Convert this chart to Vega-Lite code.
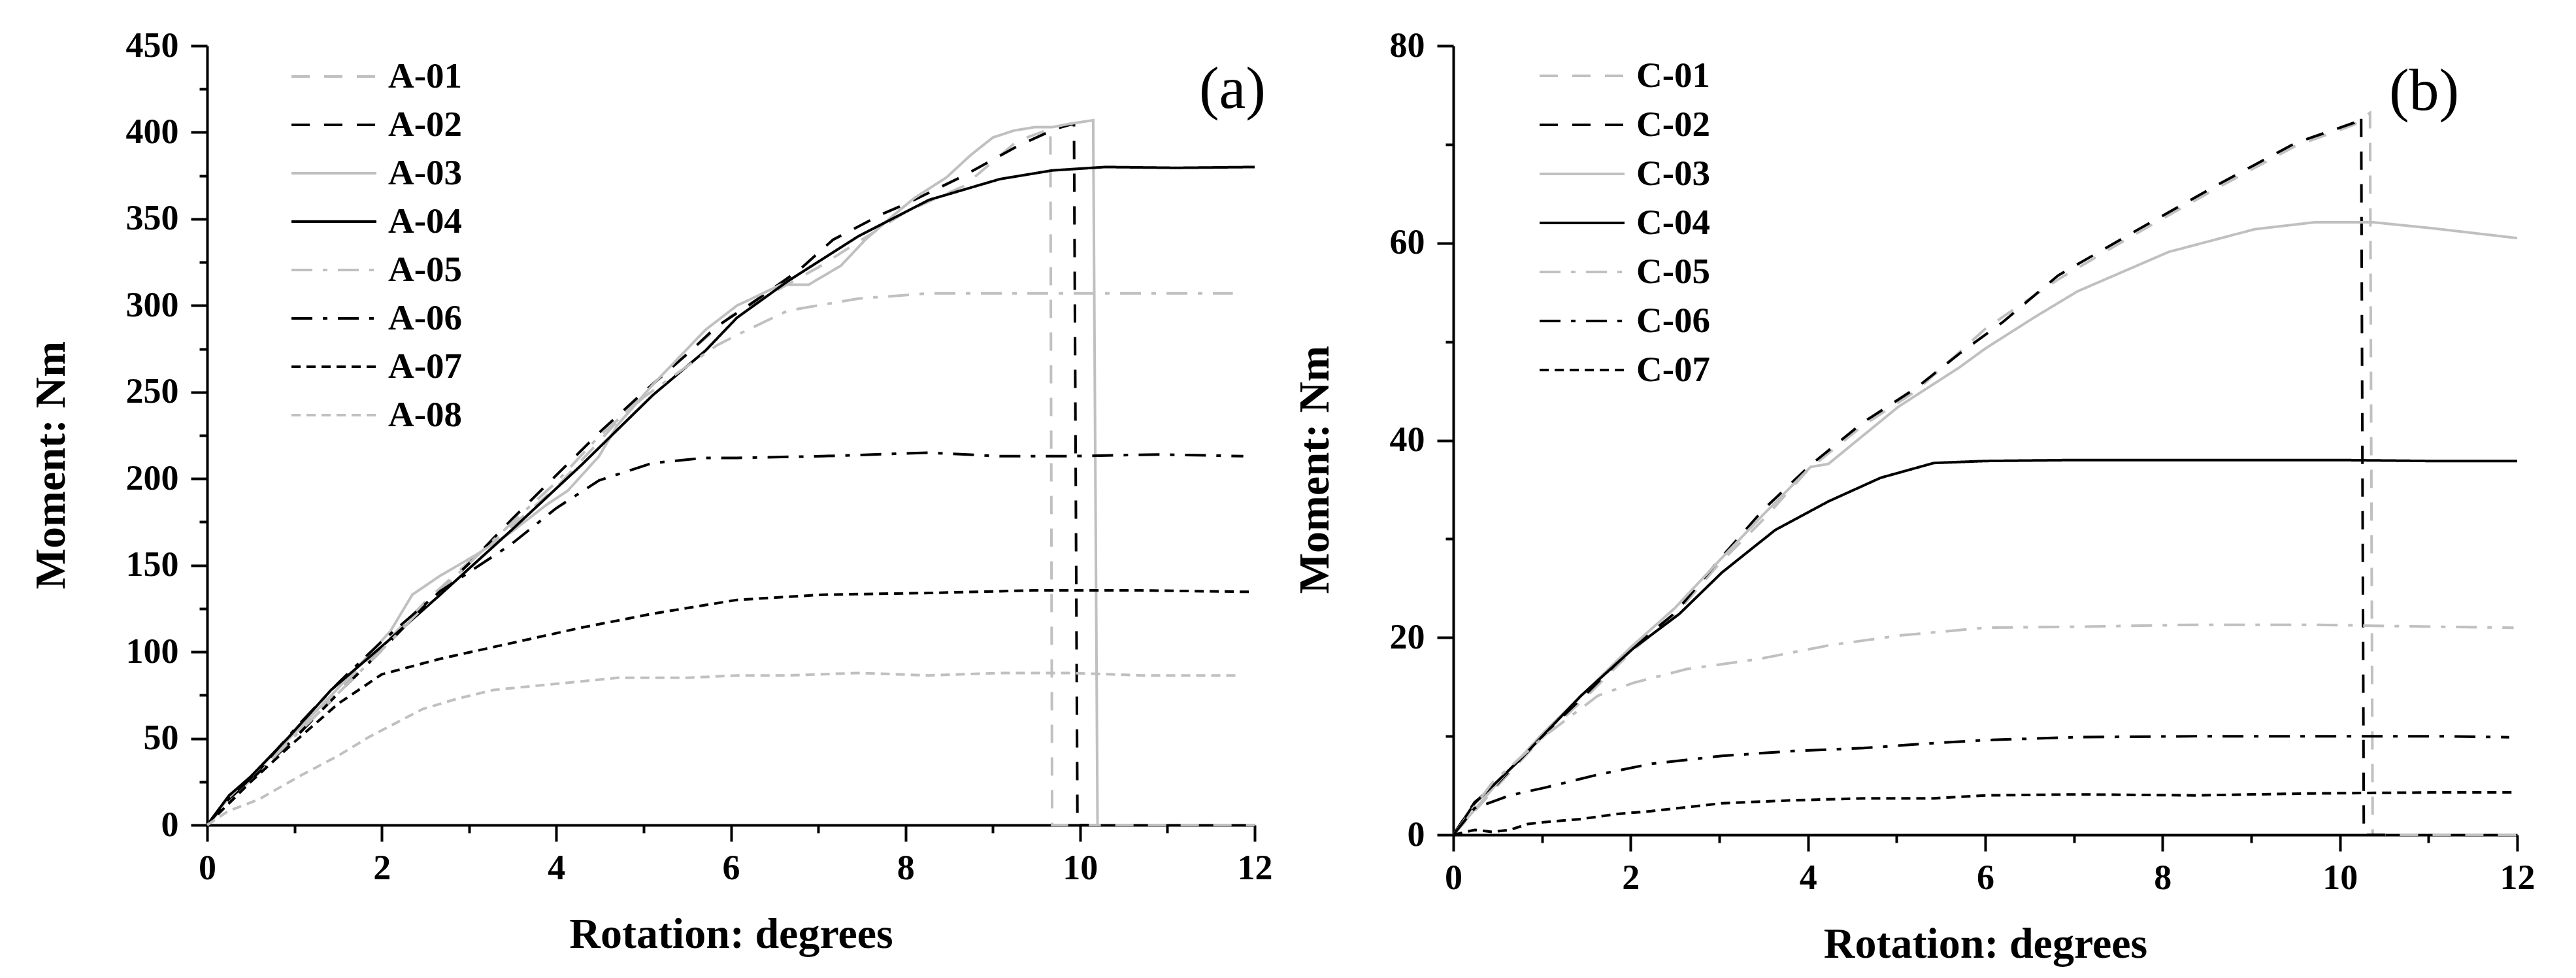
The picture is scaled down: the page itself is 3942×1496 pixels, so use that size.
{
"$schema": "https://vega.github.io/schema/vega-lite/v6.json",
"background": "white",
"padding": {"left": 45, "top": 43, "right": 5, "bottom": 5},
"config": {
  "view": {"stroke": null},
  "font": "Liberation Serif",
  "axis": {"domainColor": "black", "domainWidth": 4, "tickColor": "black", "tickWidth": 4, "grid": false,
    "labelFont": "Liberation Serif", "labelFontSize": 54, "labelFontWeight": "bold", "labelColor": "black",
    "titleFont": "Liberation Serif", "titleFontSize": 66, "titleFontWeight": "bold", "titleColor": "black",
    "labelOverlap": false, "labelFlush": false, "labelBound": false, "format": "d"},
  "legend": {"labelFont": "Liberation Serif", "labelFontSize": 55, "labelFontWeight": "bold", "labelColor": "black",
    "symbolType": "stroke", "symbolSize": 16900, "symbolStrokeWidth": 4, "labelOffset": 16, "rowPadding": 19, "clipHeight": 52, "padding": 0}
},
"datasets": {
"a": [
{"s":"A-01","x":0,"y":0},{"s":"A-01","x":0.25,"y":15},{"s":"A-01","x":0.5,"y":27},{"s":"A-01","x":1,"y":52},{"s":"A-01","x":1.5,"y":78},{"s":"A-01","x":2,"y":103},{"s":"A-01","x":2.5,"y":129},{"s":"A-01","x":3,"y":152},{"s":"A-01","x":3.5,"y":173},{"s":"A-01","x":4,"y":195},{"s":"A-01","x":4.5,"y":222},{"s":"A-01","x":5,"y":250},{"s":"A-01","x":5.5,"y":272},{"s":"A-01","x":6,"y":294},{"s":"A-01","x":6.5,"y":308},{"s":"A-01","x":7,"y":322},{"s":"A-01","x":7.5,"y":338},{"s":"A-01","x":8,"y":354},{"s":"A-01","x":8.67,"y":369},{"s":"A-01","x":9.28,"y":395},{"s":"A-01","x":9.66,"y":402},{"s":"A-01","x":9.68,"y":0},{"s":"A-01","x":12,"y":0},
{"s":"A-02","x":0,"y":0},{"s":"A-02","x":0.25,"y":15},{"s":"A-02","x":0.5,"y":26},{"s":"A-02","x":1,"y":50},{"s":"A-02","x":1.5,"y":76},{"s":"A-02","x":2,"y":101},{"s":"A-02","x":2.5,"y":127},{"s":"A-02","x":3,"y":151},{"s":"A-02","x":3.5,"y":177},{"s":"A-02","x":4,"y":202},{"s":"A-02","x":4.5,"y":227},{"s":"A-02","x":5,"y":250},{"s":"A-02","x":5.5,"y":272},{"s":"A-02","x":5.84,"y":288},{"s":"A-02","x":6.2,"y":300},{"s":"A-02","x":6.77,"y":320},{"s":"A-02","x":7.17,"y":338},{"s":"A-02","x":7.74,"y":353},{"s":"A-02","x":8.02,"y":359},{"s":"A-02","x":8.67,"y":375},{"s":"A-02","x":9.28,"y":392},{"s":"A-02","x":9.72,"y":402},{"s":"A-02","x":9.93,"y":405},{"s":"A-02","x":9.97,"y":0},{"s":"A-02","x":10.1,"y":0},
{"s":"A-03","x":0,"y":0},{"s":"A-03","x":0.25,"y":16},{"s":"A-03","x":0.5,"y":28},{"s":"A-03","x":1,"y":53},{"s":"A-03","x":1.5,"y":79},{"s":"A-03","x":2.1,"y":112},{"s":"A-03","x":2.35,"y":133},{"s":"A-03","x":2.67,"y":144},{"s":"A-03","x":3.08,"y":156},{"s":"A-03","x":3.48,"y":169},{"s":"A-03","x":3.89,"y":185},{"s":"A-03","x":4.13,"y":193},{"s":"A-03","x":4.49,"y":213},{"s":"A-03","x":4.7,"y":231},{"s":"A-03","x":5.1,"y":254},{"s":"A-03","x":5.71,"y":286},{"s":"A-03","x":6.07,"y":300},{"s":"A-03","x":6.24,"y":304},{"s":"A-03","x":6.57,"y":312},{"s":"A-03","x":6.89,"y":312},{"s":"A-03","x":7.26,"y":323},{"s":"A-03","x":7.54,"y":338},{"s":"A-03","x":7.86,"y":352},{"s":"A-03","x":8.1,"y":362},{"s":"A-03","x":8.47,"y":374},{"s":"A-03","x":8.75,"y":387},{"s":"A-03","x":9.0,"y":397},{"s":"A-03","x":9.24,"y":401},{"s":"A-03","x":9.48,"y":403},{"s":"A-03","x":9.68,"y":403},{"s":"A-03","x":9.89,"y":405},{"s":"A-03","x":10.15,"y":407},{"s":"A-03","x":10.2,"y":0},
{"s":"A-04","x":0,"y":0},{"s":"A-04","x":0.25,"y":17},{"s":"A-04","x":0.5,"y":28},{"s":"A-04","x":0.92,"y":50},{"s":"A-04","x":1.42,"y":78},{"s":"A-04","x":2.02,"y":104},{"s":"A-04","x":2.67,"y":133},{"s":"A-04","x":3.48,"y":170},{"s":"A-04","x":4.29,"y":208},{"s":"A-04","x":5.1,"y":248},{"s":"A-04","x":5.71,"y":274},{"s":"A-04","x":6.07,"y":293},{"s":"A-04","x":6.65,"y":314},{"s":"A-04","x":7.46,"y":340},{"s":"A-04","x":8.27,"y":361},{"s":"A-04","x":9.08,"y":373},{"s":"A-04","x":9.68,"y":378},{"s":"A-04","x":10.29,"y":380},{"s":"A-04","x":11.1,"y":379.5},{"s":"A-04","x":12,"y":380},
{"s":"A-05","x":0,"y":0},{"s":"A-05","x":0.25,"y":14},{"s":"A-05","x":0.5,"y":26},{"s":"A-05","x":1,"y":51},{"s":"A-05","x":1.5,"y":76},{"s":"A-05","x":2,"y":101},{"s":"A-05","x":2.5,"y":127},{"s":"A-05","x":3,"y":151},{"s":"A-05","x":3.5,"y":175},{"s":"A-05","x":4,"y":198},{"s":"A-05","x":4.5,"y":225},{"s":"A-05","x":5,"y":247},{"s":"A-05","x":5.5,"y":265},{"s":"A-05","x":5.84,"y":277},{"s":"A-05","x":6.07,"y":283},{"s":"A-05","x":6.65,"y":297},{"s":"A-05","x":7.46,"y":304},{"s":"A-05","x":8.27,"y":307},{"s":"A-05","x":9.08,"y":307},{"s":"A-05","x":9.89,"y":307},{"s":"A-05","x":10.7,"y":307},{"s":"A-05","x":11.75,"y":307},
{"s":"A-06","x":0,"y":0},{"s":"A-06","x":0.25,"y":15},{"s":"A-06","x":0.6,"y":32},{"s":"A-06","x":1.05,"y":58},{"s":"A-06","x":1.5,"y":82},{"s":"A-06","x":2.0,"y":106},{"s":"A-06","x":2.67,"y":135},{"s":"A-06","x":3.48,"y":162},{"s":"A-06","x":4.0,"y":183},{"s":"A-06","x":4.49,"y":199},{"s":"A-06","x":5.1,"y":209},{"s":"A-06","x":5.7,"y":212},{"s":"A-06","x":6.07,"y":212},{"s":"A-06","x":7.05,"y":213},{"s":"A-06","x":8.27,"y":215},{"s":"A-06","x":9.08,"y":213},{"s":"A-06","x":9.89,"y":213},{"s":"A-06","x":10.9,"y":214},{"s":"A-06","x":11.87,"y":213},
{"s":"A-07","x":0,"y":0},{"s":"A-07","x":0.5,"y":25},{"s":"A-07","x":1,"y":48},{"s":"A-07","x":1.5,"y":70},{"s":"A-07","x":2,"y":87},{"s":"A-07","x":2.67,"y":96},{"s":"A-07","x":3.48,"y":105},{"s":"A-07","x":4.29,"y":114},{"s":"A-07","x":5.1,"y":122},{"s":"A-07","x":6.07,"y":130},{"s":"A-07","x":7.05,"y":133},{"s":"A-07","x":8.27,"y":134},{"s":"A-07","x":9.48,"y":135.5},{"s":"A-07","x":10.7,"y":135.5},{"s":"A-07","x":12,"y":134.6},
{"s":"A-08","x":0,"y":0},{"s":"A-08","x":0.24,"y":8},{"s":"A-08","x":0.6,"y":15},{"s":"A-08","x":1.05,"y":28},{"s":"A-08","x":1.5,"y":40},{"s":"A-08","x":1.86,"y":51},{"s":"A-08","x":2.47,"y":67},{"s":"A-08","x":2.87,"y":73},{"s":"A-08","x":3.28,"y":78},{"s":"A-08","x":3.89,"y":81},{"s":"A-08","x":4.7,"y":85},{"s":"A-08","x":5.5,"y":85},{"s":"A-08","x":6.07,"y":86.4},{"s":"A-08","x":6.65,"y":86.4},{"s":"A-08","x":7.46,"y":87.8},{"s":"A-08","x":8.27,"y":86.4},{"s":"A-08","x":9.08,"y":87.8},{"s":"A-08","x":9.89,"y":87.8},{"s":"A-08","x":10.7,"y":86.4},{"s":"A-08","x":11.83,"y":86.4}
],
"b": [
{"s":"C-01","x":0,"y":0},{"s":"C-01","x":0.5,"y":5},{"s":"C-01","x":1,"y":9.8},{"s":"C-01","x":1.5,"y":14},{"s":"C-01","x":2,"y":18.5},{"s":"C-01","x":2.5,"y":22.3},{"s":"C-01","x":3,"y":27.5},{"s":"C-01","x":3.5,"y":32},{"s":"C-01","x":4,"y":37},{"s":"C-01","x":4.62,"y":41.5},{"s":"C-01","x":5.22,"y":45},{"s":"C-01","x":6,"y":51.3},{"s":"C-01","x":6.82,"y":56.3},{"s":"C-01","x":7.71,"y":61},{"s":"C-01","x":8.6,"y":65.5},{"s":"C-01","x":9.49,"y":69.8},{"s":"C-01","x":10.16,"y":72},{"s":"C-01","x":10.34,"y":73.2},{"s":"C-01","x":10.37,"y":0},{"s":"C-01","x":12,"y":0},
{"s":"C-02","x":0,"y":0},{"s":"C-02","x":0.24,"y":3.3},{"s":"C-02","x":0.5,"y":5.2},{"s":"C-02","x":1,"y":10},{"s":"C-02","x":1.5,"y":14.3},{"s":"C-02","x":2,"y":18.8},{"s":"C-02","x":2.5,"y":22.5},{"s":"C-02","x":3.03,"y":28.2},{"s":"C-02","x":3.5,"y":33},{"s":"C-02","x":4.03,"y":37.5},{"s":"C-02","x":4.62,"y":41.8},{"s":"C-02","x":5.22,"y":45.3},{"s":"C-02","x":5.71,"y":48.8},{"s":"C-02","x":6.2,"y":52},{"s":"C-02","x":6.82,"y":56.7},{"s":"C-02","x":7.71,"y":61.3},{"s":"C-02","x":8.6,"y":65.8},{"s":"C-02","x":9.49,"y":70.1},{"s":"C-02","x":10.16,"y":72.2},{"s":"C-02","x":10.24,"y":73},{"s":"C-02","x":10.27,"y":0},{"s":"C-02","x":10.6,"y":0},
{"s":"C-03","x":0,"y":0},{"s":"C-03","x":0.5,"y":5.3},{"s":"C-03","x":1,"y":10.2},{"s":"C-03","x":1.5,"y":14.6},{"s":"C-03","x":2,"y":19},{"s":"C-03","x":2.5,"y":23},{"s":"C-03","x":3,"y":27.8},{"s":"C-03","x":3.5,"y":32.5},{"s":"C-03","x":4.03,"y":37.3},{"s":"C-03","x":4.23,"y":37.6},{"s":"C-03","x":5.02,"y":43.4},{"s":"C-03","x":5.71,"y":47.4},{"s":"C-03","x":6,"y":49.3},{"s":"C-03","x":6.56,"y":52.5},{"s":"C-03","x":7.04,"y":55.1},{"s":"C-03","x":8.07,"y":59.1},{"s":"C-03","x":9.04,"y":61.4},{"s":"C-03","x":9.71,"y":62.1},{"s":"C-03","x":10.38,"y":62.1},{"s":"C-03","x":11.04,"y":61.5},{"s":"C-03","x":12,"y":60.5},
{"s":"C-04","x":0,"y":0},{"s":"C-04","x":0.24,"y":3.2},{"s":"C-04","x":0.76,"y":7.7},{"s":"C-04","x":1.44,"y":14.1},{"s":"C-04","x":2.03,"y":18.9},{"s":"C-04","x":2.55,"y":22.4},{"s":"C-04","x":3.03,"y":26.6},{"s":"C-04","x":3.63,"y":30.9},{"s":"C-04","x":4.23,"y":33.8},{"s":"C-04","x":4.82,"y":36.2},{"s":"C-04","x":5.42,"y":37.7},{"s":"C-04","x":6,"y":37.9},{"s":"C-04","x":7,"y":38},{"s":"C-04","x":8,"y":38},{"s":"C-04","x":9,"y":38},{"s":"C-04","x":10,"y":38},{"s":"C-04","x":11,"y":37.9},{"s":"C-04","x":12,"y":37.9},
{"s":"C-05","x":0,"y":0},{"s":"C-05","x":0.44,"y":5.3},{"s":"C-05","x":1.04,"y":10.1},{"s":"C-05","x":1.63,"y":14.1},{"s":"C-05","x":2.03,"y":15.4},{"s":"C-05","x":2.63,"y":16.8},{"s":"C-05","x":3.43,"y":17.8},{"s":"C-05","x":4.23,"y":19.2},{"s":"C-05","x":5.02,"y":20.2},{"s":"C-05","x":6,"y":21},{"s":"C-05","x":7.04,"y":21.1},{"s":"C-05","x":8.38,"y":21.3},{"s":"C-05","x":9.71,"y":21.3},{"s":"C-05","x":11.04,"y":21.1},{"s":"C-05","x":11.96,"y":21},
{"s":"C-06","x":0,"y":0},{"s":"C-06","x":0.24,"y":2.7},{"s":"C-06","x":0.64,"y":4},{"s":"C-06","x":1.04,"y":4.8},{"s":"C-06","x":1.63,"y":6.1},{"s":"C-06","x":2.23,"y":7.2},{"s":"C-06","x":3.03,"y":8},{"s":"C-06","x":3.83,"y":8.5},{"s":"C-06","x":4.63,"y":8.8},{"s":"C-06","x":5.42,"y":9.3},{"s":"C-06","x":6,"y":9.6},{"s":"C-06","x":7.04,"y":9.9},{"s":"C-06","x":8.38,"y":10},{"s":"C-06","x":9.71,"y":10},{"s":"C-06","x":11.04,"y":10},{"s":"C-06","x":11.91,"y":9.9},
{"s":"C-07","x":0,"y":0},{"s":"C-07","x":0.24,"y":0.5},{"s":"C-07","x":0.44,"y":0.3},{"s":"C-07","x":0.64,"y":0.5},{"s":"C-07","x":0.84,"y":1.1},{"s":"C-07","x":1.04,"y":1.3},{"s":"C-07","x":1.44,"y":1.6},{"s":"C-07","x":1.83,"y":2.1},{"s":"C-07","x":2.23,"y":2.4},{"s":"C-07","x":2.63,"y":2.8},{"s":"C-07","x":3.03,"y":3.2},{"s":"C-07","x":3.83,"y":3.5},{"s":"C-07","x":4.63,"y":3.7},{"s":"C-07","x":5.42,"y":3.7},{"s":"C-07","x":6,"y":4},{"s":"C-07","x":7.04,"y":4.1},{"s":"C-07","x":8.38,"y":4},{"s":"C-07","x":9.71,"y":4.2},{"s":"C-07","x":11.04,"y":4.3},{"s":"C-07","x":11.98,"y":4.3}
]
},
"spacing": 32,
"resolve": {"scale": {"color": "independent", "strokeDash": "independent"}},
"hconcat": [
{
  "width": 1603, "height": 1192,
  "layer": [
    {"data": {"name": "a"},
     "mark": {"type": "line", "strokeWidth": 4, "strokeCap": "butt"},
     "encoding": {
       "x": {"field": "x", "type": "quantitative", "scale": {"domain": [0, 12], "nice": false},
             "axis": {"title": "Rotation: degrees", "values": [0,1,2,3,4,5,6,7,8,9,10,11,12], "format": "d",
                      "tickSize": {"condition": {"test": "datum.value % 2 === 0", "value": 25}, "value": 12},
                      "labelExpr": "datum.value % 2 === 0 ? datum.label : ''", "labelPadding": 14, "titlePadding": 42}},
       "y": {"field": "y", "type": "quantitative", "scale": {"domain": [0, 450], "nice": false},
             "axis": {"title": "Moment: Nm", "values": [0,25,50,75,100,125,150,175,200,225,250,275,300,325,350,375,400,425,450], "format": "d",
                      "tickSize": {"condition": {"test": "datum.value % 50 === 0", "value": 25}, "value": 12},
                      "labelExpr": "datum.value % 50 === 0 ? datum.label : ''", "labelPadding": 19, "titlePadding": 80, "titleY": 641}},
       "color": {"field": "s", "type": "nominal",
                 "scale": {"domain": ["A-01","A-02","A-03","A-04","A-05","A-06","A-07","A-08"], "range": ["#c0c0c0","black","#c0c0c0","black","#c0c0c0","black","black","#c0c0c0"]},
                 "legend": {"title": null, "orient": "none", "legendX": 127, "legendY": 21}},
       "strokeDash": {"field": "s", "type": "nominal",
                 "scale": {"domain": ["A-01","A-02","A-03","A-04","A-05","A-06","A-07","A-08"], "range": [[28,22],[28,22],[1,0],[1,0],[32,16,7,16],[32,16,7,16],[14,9],[14,9]]},
                 "legend": {"title": null, "orient": "none", "legendX": 127, "legendY": 21}}
     }},
    {"data": {"values": [{"label": "(a)", "x": 11.745, "y": 414}]},
     "mark": {"type": "text", "font": "Liberation Serif", "fontSize": 92, "align": "center", "baseline": "alphabetic", "color": "black"},
     "encoding": {"x": {"field": "x", "type": "quantitative"}, "y": {"field": "y", "type": "quantitative"}, "text": {"field": "label"}}}
  ]
},
{
  "width": 1628, "height": 1207,
  "layer": [
    {"data": {"name": "b"},
     "mark": {"type": "line", "strokeWidth": 4, "strokeCap": "butt"},
     "encoding": {
       "x": {"field": "x", "type": "quantitative", "scale": {"domain": [0, 12], "nice": false},
             "axis": {"title": "Rotation: degrees", "values": [0,1,2,3,4,5,6,7,8,9,10,11,12], "format": "d",
                      "tickSize": {"condition": {"test": "datum.value % 2 === 0", "value": 25}, "value": 12},
                      "labelExpr": "datum.value % 2 === 0 ? datum.label : ''", "labelPadding": 14, "titlePadding": 42}},
       "y": {"field": "y", "type": "quantitative", "scale": {"domain": [0, 80], "nice": false},
             "axis": {"title": "Moment: Nm", "values": [0,10,20,30,40,50,60,70,80], "format": "d",
                      "tickSize": {"condition": {"test": "datum.value % 20 === 0", "value": 25}, "value": 12},
                      "labelExpr": "datum.value % 20 === 0 ? datum.label : ''", "labelPadding": 19, "titlePadding": 80, "titleY": 648}},
       "color": {"field": "s", "type": "nominal",
                 "scale": {"domain": ["C-01","C-02","C-03","C-04","C-05","C-06","C-07"], "range": ["#c0c0c0","black","#c0c0c0","black","#c0c0c0","black","black"]},
                 "legend": {"title": null, "orient": "none", "legendX": 130, "legendY": 20, "rowPadding": 20}},
       "strokeDash": {"field": "s", "type": "nominal",
                 "scale": {"domain": ["C-01","C-02","C-03","C-04","C-05","C-06","C-07"], "range": [[28,22],[28,22],[1,0],[1,0],[32,16,7,16],[32,16,7,16],[14,9]]},
                 "legend": {"title": null, "orient": "none", "legendX": 130, "legendY": 20, "rowPadding": 20}}
     }},
    {"data": {"values": [{"label": "(b)", "x": 10.95, "y": 73.5}]},
     "mark": {"type": "text", "font": "Liberation Serif", "fontSize": 92, "align": "center", "baseline": "alphabetic", "color": "black"},
     "encoding": {"x": {"field": "x", "type": "quantitative"}, "y": {"field": "y", "type": "quantitative"}, "text": {"field": "label"}}}
  ]
}
]
}
